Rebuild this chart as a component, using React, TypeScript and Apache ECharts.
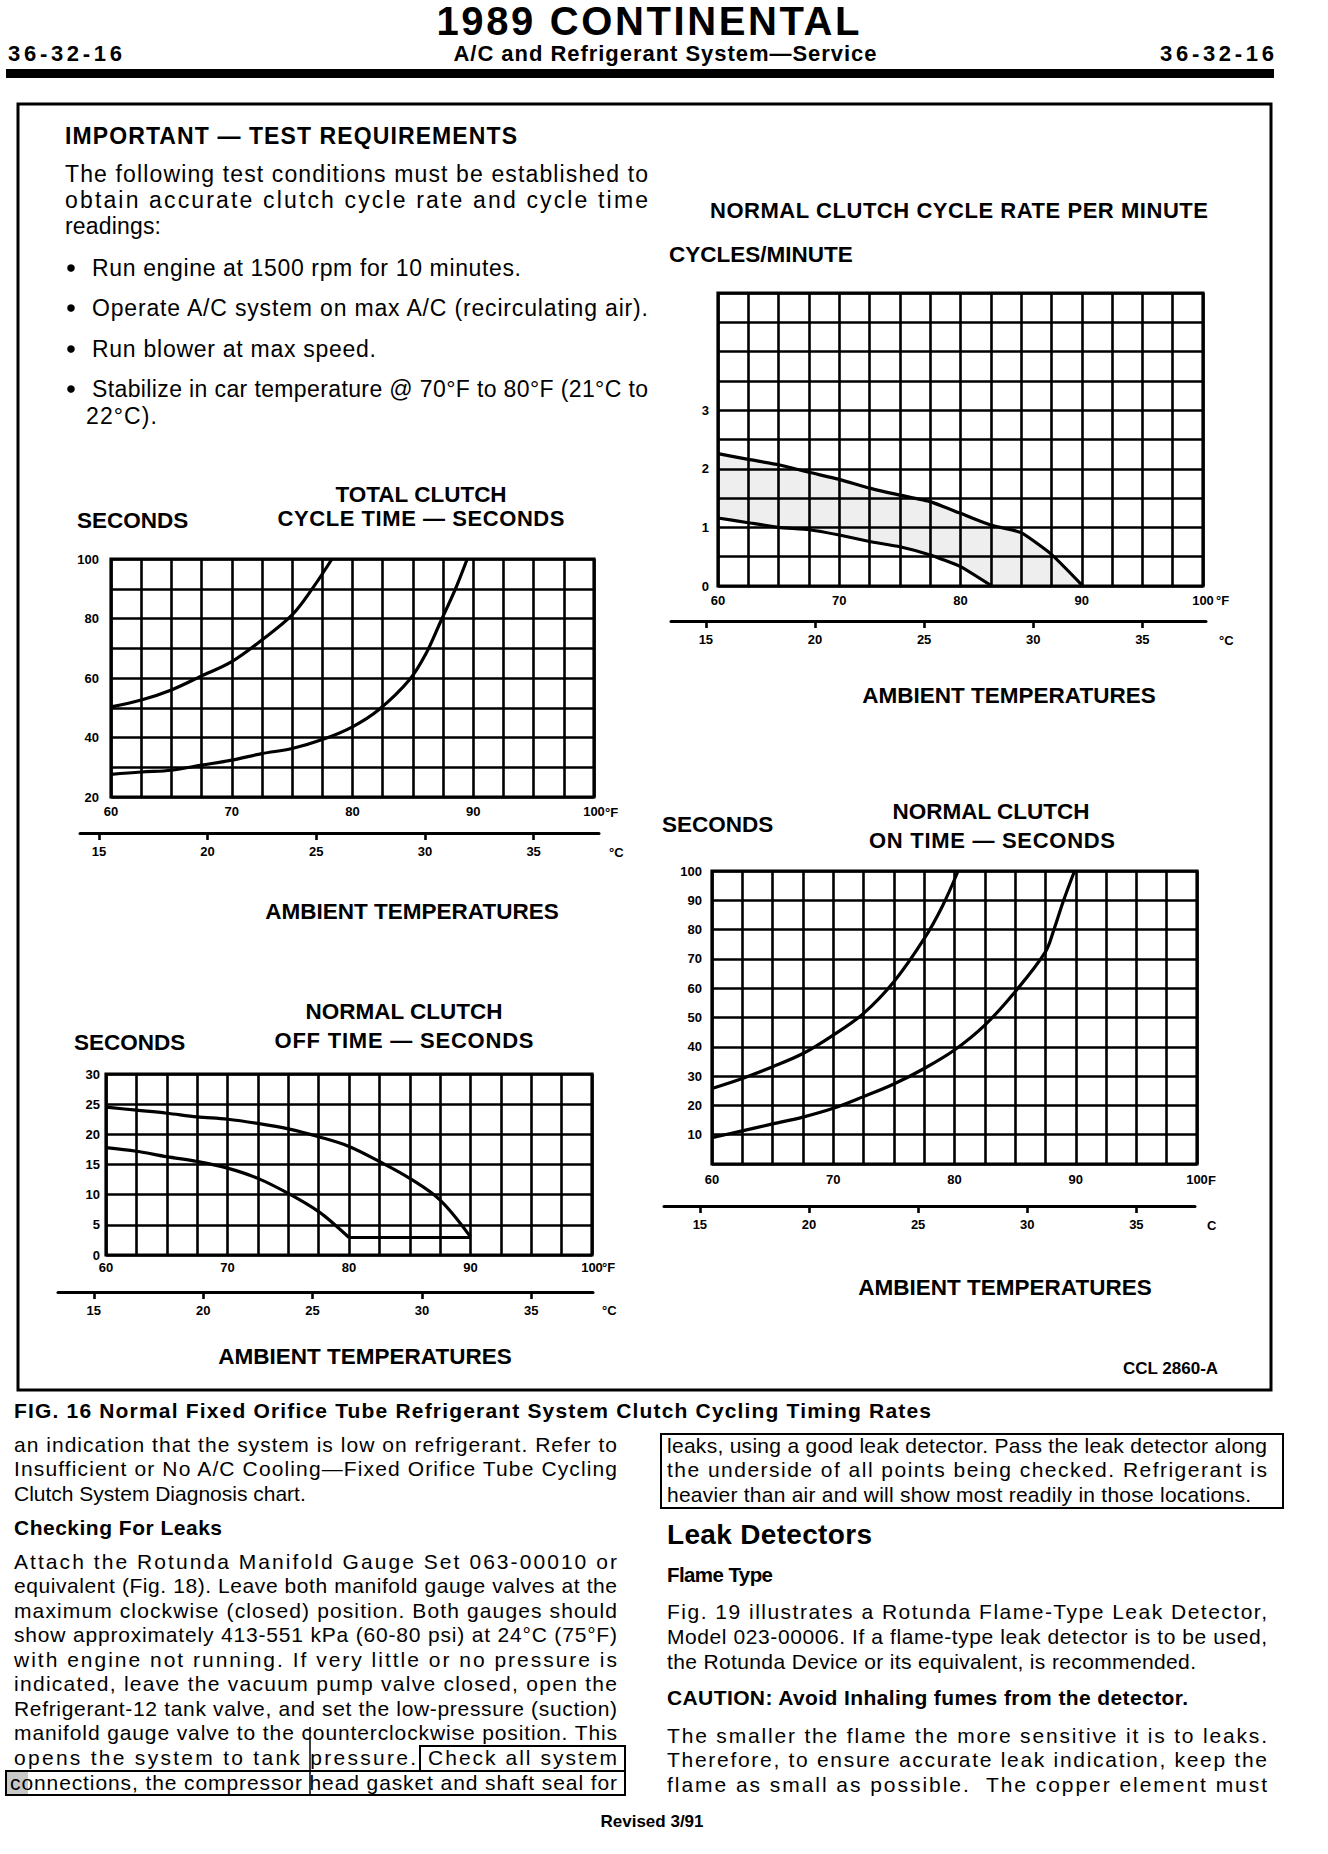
import React, { useEffect, useRef } from 'react';
import * as echarts from 'echarts';

// ---------- DATA ----------
// Fahrenheit axis (shared by all four charts)
const F_MIN = 60;
const F_MAX = 100;
const F_STEP = 2.5;
const F_LABELS = [60, 70, 80, 90, 100];
// Celsius companion axis
const C_TICKS = [15, 20, 25, 30, 35];

// Normal clutch cycle rate per minute (cycles/minute)
const RATE_Y_LABELS = [0, 1, 2, 3];
const RATE_UPPER_X = [60, 62.5, 65, 67.5, 70, 72.5, 75, 77.5, 80, 82.5, 85, 87.5, 90];
const RATE_UPPER_Y = [2.26, 2.16, 2.07, 1.94, 1.82, 1.67, 1.55, 1.44, 1.24, 1.04, 0.91, 0.54, 0.02];
const RATE_LOWER_X = [60, 62.5, 65, 67.5, 70, 72.5, 75, 77.5, 80, 82.5];
const RATE_LOWER_Y = [1.16, 1.08, 1.0, 0.96, 0.87, 0.76, 0.67, 0.53, 0.33, 0.01];

// Total clutch cycle time (seconds)
const TOTAL_Y_LABELS = [20, 40, 60, 80, 100];
const TOTAL_UPPER_X = [60, 62.5, 65, 67.5, 70, 72.5, 75, 76.7, 78.3];
const TOTAL_UPPER_Y = [50.3, 52.6, 56.0, 60.7, 65.5, 72.8, 81.2, 90.2, 100];
const TOTAL_LOWER_X = [60, 62.5, 65, 67.5, 70, 72.5, 75, 77.5, 80, 82.2, 84.7, 86.1, 87.3, 88.5, 89.5];
const TOTAL_LOWER_Y = [27.6, 28.4, 29.0, 30.7, 32.4, 34.6, 36.3, 39.3, 43.6, 49.4, 59.3, 68.3, 79.0, 89.7, 100];

// Normal clutch off time (seconds)
const OFF_Y_LABELS = [0, 5, 10, 15, 20, 25, 30];
const OFF_UPPER_X = [60, 62.5, 65, 67.5, 70, 72.5, 75, 77.5, 80, 82.5, 85, 87.5, 90];
const OFF_UPPER_Y = [24.5, 24.0, 23.5, 22.9, 22.5, 21.8, 20.9, 19.6, 18.0, 15.5, 12.7, 9.1, 3.0];
const OFF_LOWER_X = [60, 62.5, 65, 67.5, 70, 72.5, 75, 77.5, 78.9, 80];
const OFF_LOWER_Y = [17.8, 17.2, 16.3, 15.5, 14.4, 12.7, 10.2, 7.2, 4.9, 2.9];
const OFF_FLOOR_X = [80, 90];
const OFF_FLOOR_Y = [2.9, 2.9];

// Normal clutch on time (seconds)
const ON_Y_LABELS = [10, 20, 30, 40, 50, 60, 70, 80, 90, 100];
const ON_UPPER_X = [60, 62.5, 65, 67.5, 70, 72.5, 75, 77.5, 79.0, 80.3];
const ON_UPPER_Y = [25.8, 29.2, 33.2, 37.7, 44.0, 51.4, 62.2, 76.9, 88.0, 100];
const ON_LOWER_X = [60, 62.5, 65, 67.5, 70, 72.5, 75, 77.5, 80, 82.5, 85, 87.5, 88.2, 89.0, 89.9];
const ON_LOWER_Y = [9.0, 11.3, 13.7, 16.0, 19.0, 23.0, 27.3, 32.6, 38.9, 47.4, 58.8, 72.4, 80.0, 90.0, 100];

// ---------- TEXT ----------
const IMPORTANT_LINES = [
  'The following test conditions must be established to',
  'obtain accurate clutch cycle rate and cycle time',
  'readings:',
];
const BULLETS = [
  'Run engine at 1500 rpm for 10 minutes.',
  'Operate A/C system on max A/C (recirculating air).',
  'Run blower at max speed.',
  'Stabilize in car temperature @ 70°F to 80°F (21°C to',
];
const LEFT_COL_A = [
  'an indication that the system is low on refrigerant. Refer to',
  'Insufficient or No A/C Cooling—Fixed Orifice Tube Cycling',
  'Clutch System Diagnosis chart.',
];
const LEFT_COL_B = [
  'Attach the Rotunda Manifold Gauge Set 063-00010 or',
  'equivalent (Fig. 18). Leave both manifold gauge valves at the',
  'maximum clockwise (closed) position. Both gauges should',
  'show approximately 413-551 kPa (60-80 psi) at 24°C (75°F)',
  'with engine not running. If very little or no pressure is',
  'indicated, leave the vacuum pump valve closed, open the',
  'Refrigerant-12 tank valve, and set the low-pressure (suction)',
  'manifold gauge valve to the counterclockwise position. This',
];
const RIGHT_COL_A = [
  'leaks, using a good leak detector. Pass the leak detector along',
  'the underside of all points being checked. Refrigerant is',
  'heavier than air and will show most readily in those locations.',
];
const RIGHT_COL_B = [
  'Fig. 19 illustrates a Rotunda Flame-Type Leak Detector,',
  'Model 023-00006. If a flame-type leak detector is to be used,',
  'the Rotunda Device or its equivalent, is recommended.',
];
const RIGHT_COL_C = [
  'The smaller the flame the more sensitive it is to leaks.',
  'Therefore, to ensure accurate leak indication, keep the',
  'flame as small as possible.  The copper element must',
];

const FONT = '"Liberation Sans", Arial, Helvetica, sans-serif';

const zip = (xs: number[], ys: number[]) => xs.map((x, i) => [x, ys[i]]);

// text run lengths (for justified / letter-spaced lines), filled while building
const LENGTHS: Record<string, number> = {};

function txt(x: number, y: number, text: string, size: number, bold = false, align = 'left', len?: number) {
  let ax = x;
  let al = align;
  if (len) {
    if (align === 'center') ax = x - len / 2;
    else if (align === 'right') ax = x - len;
    al = 'left';
    LENGTHS[text] = len;
  }
  return {
    type: 'text',
    x: ax,
    y,
    silent: true,
    style: {
      text,
      fill: '#000',
      font: `${bold ? 'bold ' : ''}${size}px ${FONT}`,
      textAlign: al,
      align: al,
      textVerticalAlign: 'middle',
      verticalAlign: 'middle',
    },
  };
}

type Layout = {
  left: number; top: number; width: number; height: number;
  yMin: number; yMax: number; yStep: number; yLabels: number[]; yMargin: number; yShift: number;
  xMargin: number; cLeft: number; cRight: number; cY: number;
};

const LAYOUT_A: Layout = { left: 718, top: 293, width: 485, height: 293, yMin: 0, yMax: 5, yStep: 0.5, yLabels: RATE_Y_LABELS, yMargin: 9, yShift: 0, xMargin: 8, cLeft: 671, cRight: 1206, cY: 621 };
const LAYOUT_B: Layout = { left: 111, top: 559, width: 483, height: 238, yMin: 20, yMax: 100, yStep: 10, yLabels: TOTAL_Y_LABELS, yMargin: 12, yShift: 0, xMargin: 8, cLeft: 80, cRight: 599, cY: 833 };
const LAYOUT_C: Layout = { left: 106, top: 1074, width: 486, height: 181, yMin: 0, yMax: 30, yStep: 5, yLabels: OFF_Y_LABELS, yMargin: 6, yShift: 0, xMargin: 6, cLeft: 58, cRight: 593, cY: 1292 };
const LAYOUT_D: Layout = { left: 712, top: 871, width: 485, height: 293, yMin: 0, yMax: 100, yStep: 10, yLabels: ON_Y_LABELS, yMargin: 10, yShift: 5, xMargin: 9, cLeft: 664, cRight: 1195, cY: 1206 };

const LAYOUTS = [LAYOUT_A, LAYOUT_B, LAYOUT_C, LAYOUT_D];

const labelStyle = { color: '#000', fontWeight: 'bold' as const, fontSize: 13, fontFamily: FONT };

function buildOption() {
  const grid: any[] = [];
  const xAxis: any[] = [];
  const yAxis: any[] = [];
  LAYOUTS.forEach((L, i) => {
    grid.push({ left: L.left, top: L.top, width: L.width, height: L.height, show: true, borderColor: '#000', borderWidth: 3.2, backgroundColor: 'transparent' });
    xAxis.push({
      type: 'value', gridIndex: 2 * i, min: F_MIN, max: F_MAX, interval: F_STEP,
      axisLine: { show: false }, axisTick: { show: false },
      splitLine: { show: true, lineStyle: { color: '#000', width: 2.6 } },
      axisLabel: { ...labelStyle, margin: L.xMargin, showMinLabel: true, showMaxLabel: true, formatter: (v: number) => (F_LABELS.includes(v) ? String(v) : '') },
    });
    yAxis.push({
      type: 'value', gridIndex: 2 * i, min: L.yMin, max: L.yMax, interval: L.yStep,
      axisLine: { show: false }, axisTick: { show: false },
      splitLine: { show: true, lineStyle: { color: '#000', width: 2.6 } },
      axisLabel: {
        ...labelStyle, margin: L.yMargin, showMinLabel: true, showMaxLabel: true,
        padding: [L.yShift * 2, 0, 0, 0],
        formatter: (v: number) => (L.yLabels.includes(Math.round(v * 100) / 100) ? String(v) : ''),
      },
    });
    // Celsius companion axis, aligned with the Fahrenheit scale
    const fAt = (px: number) => F_MIN + ((px - L.left) / L.width) * (F_MAX - F_MIN);
    const toC = (f: number) => ((f - 32) * 5) / 9;
    grid.push({ left: L.cLeft, top: L.cY - 1, width: L.cRight - L.cLeft, height: 1, show: false });
    xAxis.push({
      type: 'value', gridIndex: 2 * i + 1, min: toC(fAt(L.cLeft)), max: toC(fAt(L.cRight)),
      axisLine: { show: true, lineStyle: { color: '#000', width: 3 } },
      axisTick: { show: true, customValues: C_TICKS, length: 7, lineStyle: { color: '#000', width: 2.6 } },
      axisLabel: { ...labelStyle, customValues: C_TICKS, margin: 12, formatter: (v: number) => String(Math.round(v)) },
      splitLine: { show: false },
    });
    yAxis.push({ type: 'value', gridIndex: 2 * i + 1, show: false, min: 0, max: 1 });
  });

  const line = (gi: number, xs: number[], ys: number[], smooth: number | boolean = 0.35) => ({
    type: 'line', xAxisIndex: gi, yAxisIndex: gi, data: zip(xs, ys), symbol: 'none', showSymbol: false,
    smooth, lineStyle: { color: '#000', width: 3.2 }, z: 5, silent: true,
  });

  const series: any[] = [
    {
      type: 'custom', xAxisIndex: 0, yAxisIndex: 0, z: -1, silent: true, data: [[60, 0]],
      renderItem: (_p: any, api: any) => {
        const pts: number[][] = [];
        RATE_UPPER_X.forEach((x, i) => pts.push(api.coord([x, RATE_UPPER_Y[i]])));
        for (let i = RATE_LOWER_X.length - 1; i >= 0; i--) pts.push(api.coord([RATE_LOWER_X[i], RATE_LOWER_Y[i]]));
        return { type: 'polygon', shape: { points: pts }, style: { fill: '#eeeeee' } };
      },
    },
    line(0, RATE_UPPER_X, RATE_UPPER_Y, 0.15),
    line(0, RATE_LOWER_X, RATE_LOWER_Y, 0.15),
    line(2, TOTAL_UPPER_X, TOTAL_UPPER_Y),
    line(2, TOTAL_LOWER_X, TOTAL_LOWER_Y),
    line(4, OFF_UPPER_X, OFF_UPPER_Y),
    line(4, OFF_LOWER_X, OFF_LOWER_Y),
    line(4, OFF_FLOOR_X, OFF_FLOOR_Y, false),
    line(6, ON_UPPER_X, ON_UPPER_Y),
    line(6, ON_LOWER_X, ON_LOWER_Y),
  ];

  const g: any[] = [];
  // header
  g.push(txt(648, 21, '1989 CONTINENTAL', 40, true, 'center', 423));
  g.push(txt(8, 53, '36-32-16', 22, true, 'left', 114));
  g.push(txt(665, 53, 'A/C and Refrigerant System—Service', 22, true, 'center', 423));
  g.push(txt(1274, 53, '36-32-16', 22, true, 'right', 114));
  g.push({ type: 'rect', silent: true, shape: { x: 6, y: 69, width: 1268, height: 9 }, style: { fill: '#000' } });
  // outer figure box
  g.push({ type: 'rect', silent: true, shape: { x: 18, y: 104, width: 1253, height: 1286 }, style: { fill: 'none', stroke: '#000', lineWidth: 3 } });

  // important block
  g.push(txt(65, 136, 'IMPORTANT — TEST REQUIREMENTS', 23, true, 'left', 452));
  const impY = [174, 200, 226];
  const impLen = [583, 583, 96];
  IMPORTANT_LINES.forEach((s, i) => g.push(txt(65, impY[i], s, 23, false, 'left', impLen[i])));
  const bulletY = [268, 308, 349, 389];
  const bulletLen = [429, 556, 284, 556];
  BULLETS.forEach((s, i) => {
    g.push({ type: 'circle', silent: true, shape: { cx: 71, cy: bulletY[i], r: 3.8 }, style: { fill: '#000' } });
    g.push(txt(92, bulletY[i], s, 23, false, 'left', bulletLen[i]));
  });
  g.push(txt(86, 416, '22°C).', 23, false, 'left', 71));

  // chart A titles
  g.push(txt(959, 210, 'NORMAL CLUTCH CYCLE RATE PER MINUTE', 22, true, 'center', 498));
  g.push(txt(669, 254, 'CYCLES/MINUTE', 22.5, true, 'left'));
  g.push(txt(1009, 695, 'AMBIENT TEMPERATURES', 22.5, true, 'center'));
  // chart B titles
  g.push(txt(421, 494, 'TOTAL CLUTCH', 22.5, true, 'center'));
  g.push(txt(421, 518, 'CYCLE TIME — SECONDS', 22, true, 'center', 287));
  g.push(txt(77, 520, 'SECONDS', 22.5, true, 'left'));
  g.push(txt(412, 911, 'AMBIENT TEMPERATURES', 22.5, true, 'center'));
  // chart C titles
  g.push(txt(404, 1011, 'NORMAL CLUTCH', 22.5, true, 'center'));
  g.push(txt(404, 1040, 'OFF TIME — SECONDS', 22, true, 'center', 259));
  g.push(txt(74, 1042, 'SECONDS', 22.5, true, 'left'));
  g.push(txt(365, 1356, 'AMBIENT TEMPERATURES', 22.5, true, 'center'));
  // chart D titles
  g.push(txt(991, 811, 'NORMAL CLUTCH', 22.5, true, 'center'));
  g.push(txt(992, 840, 'ON TIME — SECONDS', 22, true, 'center', 246));
  g.push(txt(662, 824, 'SECONDS', 22.5, true, 'left'));
  g.push(txt(1005, 1287, 'AMBIENT TEMPERATURES', 22.5, true, 'center'));
  // unit marks
  g.push(txt(1216, 600, '°F', 13, true));
  g.push(txt(1219, 640, '°C', 13, true));
  g.push(txt(605, 812, '°F', 13, true));
  g.push(txt(609, 852, '°C', 13, true));
  g.push(txt(602, 1267, '°F', 13, true));
  g.push(txt(602, 1310, '°C', 13, true));
  g.push(txt(1208, 1180, 'F', 13, true));
  g.push(txt(1207, 1225, 'C', 13, true));
  g.push(txt(1123, 1368, 'CCL 2860-A', 17, true));

  // caption
  g.push(txt(14, 1410, 'FIG. 16 Normal Fixed Orifice Tube Refrigerant System Clutch Cycling Timing Rates', 21, true, 'left', 917));

  // left column
  const leftALen = [603, 603, 0];
  LEFT_COL_A.forEach((s, i) => g.push(txt(14, 1444 + i * 24.5, s, 21, false, 'left', leftALen[i] || undefined)));
  g.push(txt(14, 1527, 'Checking For Leaks', 21, true, 'left', 208));
  LEFT_COL_B.forEach((s, i) => g.push(txt(14, 1561 + i * 24.5, s, 21, false, 'left', 603)));
  g.push({ type: 'rect', silent: true, shape: { x: 6, y: 1772, width: 22, height: 23 }, style: { fill: '#c8c8c8' } });
  g.push(txt(14, 1757, 'opens the system to tank pressure.', 21, false, 'left', 402));
  g.push(txt(428, 1757, 'Check all system', 21, false, 'left', 189));
  g.push(txt(10, 1782, 'connections, the compressor head gasket and shaft seal for', 21, false, 'left', 607));
  g.push({ type: 'rect', silent: true, shape: { x: 420, y: 1746, width: 205, height: 25 }, style: { fill: 'none', stroke: '#000', lineWidth: 2 } });
  g.push({ type: 'rect', silent: true, shape: { x: 6, y: 1771, width: 619, height: 24 }, style: { fill: 'none', stroke: '#000', lineWidth: 2 } });
  g.push({ type: 'line', silent: true, shape: { x1: 310, y1: 1727, x2: 310, y2: 1795 }, style: { stroke: '#000', lineWidth: 1.5 } });

  // right column
  g.push({ type: 'rect', silent: true, shape: { x: 661, y: 1434, width: 622, height: 74 }, style: { fill: 'none', stroke: '#000', lineWidth: 2 } });
  const rightALen = [600, 600, 584];
  RIGHT_COL_A.forEach((s, i) => g.push(txt(667, 1445 + i * 24.5, s, 21, false, 'left', rightALen[i])));
  g.push(txt(667, 1534, 'Leak Detectors', 28, true, 'left', 205));
  g.push(txt(667, 1574, 'Flame Type', 20.5, true, 'left', 106));
  const rightBLen = [600, 600, 529];
  RIGHT_COL_B.forEach((s, i) => g.push(txt(667, 1611 + i * 25, s, 21, false, 'left', rightBLen[i])));
  g.push(txt(667, 1697, 'CAUTION: Avoid Inhaling fumes from the detector.', 21, true, 'left', 521));
  RIGHT_COL_C.forEach((s, i) => g.push(txt(667, 1735 + i * 24.5, s, 21, false, 'left', 600)));
  g.push(txt(652, 1821, 'Revised 3/91', 17, true, 'center'));

  return {
    animation: false,
    backgroundColor: '#fff',
    grid,
    xAxis,
    yAxis,
    series,
    graphic: { elements: g },
  };
}

export default function App() {
  const ref = useRef<HTMLDivElement>(null);
  useEffect(() => {
    if (!ref.current) return;
    const chart = echarts.init(ref.current, null, { renderer: 'svg', width: 1328, height: 1854 });
    chart.setOption(buildOption() as any);
    // stretch justified / letter-spaced runs to the widths they have on the page
    const applyLengths = () => {
      const svg = ref.current?.querySelector('svg');
      if (!svg) return;
      svg.querySelectorAll('text').forEach((el) => {
        const len = LENGTHS[el.textContent || ''];
        if (len) {
          el.setAttribute('textLength', String(len));
          el.setAttribute('lengthAdjust', 'spacing');
        }
      });
    };
    chart.on('finished', applyLengths);
    applyLengths();
    const t1 = window.setTimeout(applyLengths, 30);
    const t2 = window.setTimeout(applyLengths, 200);
    return () => {
      window.clearTimeout(t1);
      window.clearTimeout(t2);
      chart.dispose();
    };
  }, []);
  return (
    <div
      ref={ref}
      style={{ position: 'absolute', left: 0, top: 0, width: 1328, height: 1854, background: '#fff' }}
    />
  );
}
